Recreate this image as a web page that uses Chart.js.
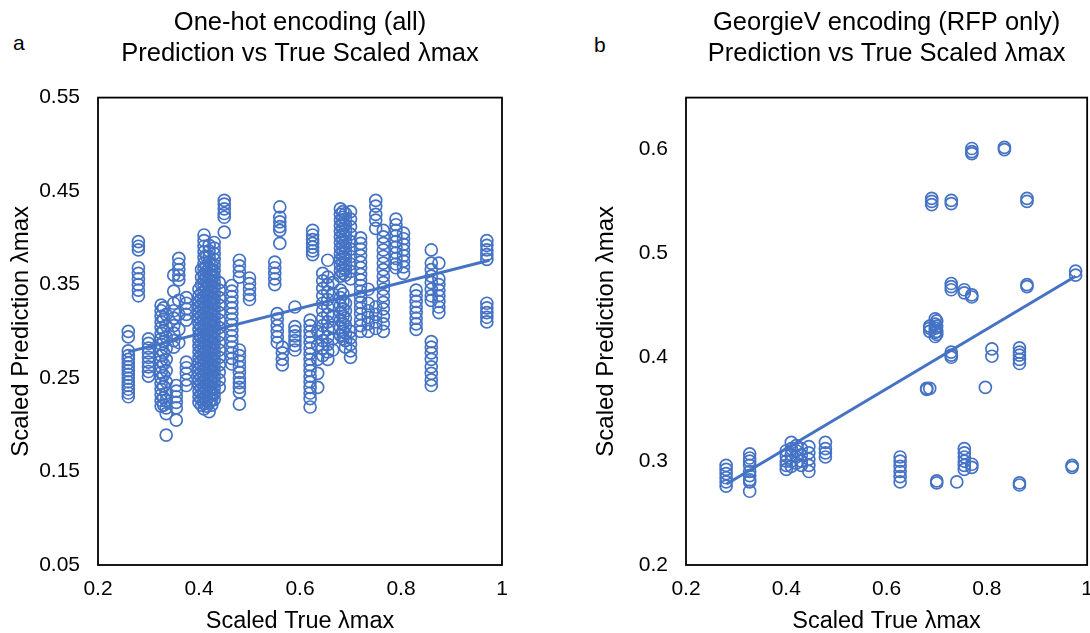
<!DOCTYPE html>
<html>
<head>
<meta charset="utf-8">
<script src="https://cdn.jsdelivr.net/npm/chart.js@4.4.0/dist/chart.umd.min.js"></script>
<style>
  body { margin: 0; background: #fff; overflow: hidden; width: 1090px; height: 633px; position: relative;
         font-family: "Liberation Sans", Arial, sans-serif; }
  .panel { position: absolute; top: 0; height: 633px; }
  #wrapA { left: 0; width: 545px; }
  #wrapB { left: 545px; width: 560px; }
  .tag { position: absolute; font-size: 21px; line-height: 1; color: #000; }
</style>
</head>
<body>
<div class="tag" style="left:13px;top:32px">a</div>
<div class="tag" style="left:594px;top:34px">b</div>
<div id="wrapA" class="panel"><canvas id="chartA" width="545" height="633"></canvas></div>
<div id="wrapB" class="panel"><canvas id="chartB" width="560" height="633"></canvas></div>
<script>
// Panel a: one-hot encoding, columns of predictions at each true value
const xA = [0.26, 0.28, 0.30, 0.325, 0.33, 0.335, 0.35, 0.36, 0.355, 0.375, 0.40, 0.405, 0.41, 0.415, 0.42, 0.425,
            0.43, 0.44, 0.45, 0.465, 0.48, 0.50, 0.55, 0.56, 0.555, 0.565, 0.59, 0.625, 0.62, 0.635, 0.645, 0.655,
            0.665, 0.68, 0.685, 0.69, 0.70, 0.72, 0.735, 0.75, 0.765, 0.79, 0.805, 0.83, 0.86, 0.875, 0.97];
const yA = [
  [0.300, 0.294, 0.279, 0.274, 0.270, 0.266, 0.262, 0.258, 0.254, 0.250, 0.246, 0.242, 0.238, 0.234, 0.230],
  [0.396, 0.391, 0.387, 0.368, 0.362, 0.356, 0.350, 0.344, 0.338],
  [0.292, 0.287, 0.282, 0.277, 0.272, 0.267, 0.262, 0.257, 0.252],
  [0.328, 0.322, 0.316, 0.310, 0.304, 0.298, 0.292, 0.286, 0.280, 0.274, 0.268, 0.262, 0.256, 0.250, 0.244, 0.238, 0.232, 0.226, 0.220],
  [0.325, 0.313, 0.301, 0.289, 0.277, 0.265, 0.253, 0.241, 0.229, 0.221],
  [0.318, 0.306, 0.294, 0.282, 0.270, 0.258, 0.246, 0.234, 0.226, 0.218, 0.212, 0.189],
  [0.360, 0.343, 0.330, 0.322, 0.314, 0.306, 0.298, 0.290, 0.283],
  [0.378, 0.372, 0.366, 0.360, 0.355, 0.333, 0.318, 0.302, 0.288],
  [0.242, 0.236, 0.230, 0.224, 0.218, 0.205],
  [0.336, 0.330, 0.324, 0.318, 0.312, 0.267, 0.261, 0.255, 0.248, 0.242],
  [0.345, 0.338, 0.332, 0.326, 0.320, 0.314, 0.308, 0.302, 0.296, 0.290, 0.284, 0.278, 0.272, 0.266, 0.260, 0.254, 0.248, 0.242, 0.236, 0.230, 0.224],
  [0.366, 0.358, 0.350, 0.341, 0.335, 0.329, 0.323, 0.317, 0.311, 0.305, 0.299, 0.293, 0.287, 0.281, 0.275, 0.269,
   0.263, 0.257, 0.251, 0.245, 0.239, 0.233, 0.227, 0.221],
  [0.403, 0.397, 0.391, 0.385, 0.379, 0.373, 0.367, 0.361, 0.355, 0.349, 0.343, 0.337, 0.331, 0.325, 0.319, 0.313,
   0.307, 0.301, 0.295, 0.289, 0.283, 0.277, 0.271, 0.265, 0.259, 0.253, 0.247, 0.241, 0.235, 0.229, 0.223, 0.217],
  [0.380, 0.370, 0.364, 0.358, 0.352, 0.346, 0.340, 0.334, 0.328, 0.322, 0.316, 0.310, 0.304, 0.298, 0.292, 0.286,
   0.280, 0.274, 0.268, 0.262, 0.256, 0.250, 0.244, 0.238, 0.232, 0.226, 0.220],
  [0.392, 0.386, 0.380, 0.374, 0.368, 0.362, 0.356, 0.350, 0.344, 0.338, 0.332, 0.326, 0.320, 0.314, 0.308,
   0.302, 0.296, 0.290, 0.284, 0.278, 0.272, 0.266, 0.260, 0.254, 0.248, 0.242, 0.236, 0.230, 0.224, 0.214],
  [0.371, 0.365, 0.359, 0.353, 0.347, 0.341, 0.335, 0.329, 0.323, 0.317, 0.311, 0.305, 0.299, 0.293, 0.287, 0.281,
   0.275, 0.269, 0.263, 0.257, 0.251, 0.245, 0.239, 0.233, 0.227, 0.221],
  [0.395, 0.389, 0.383, 0.377, 0.371, 0.365, 0.359, 0.353, 0.347, 0.341, 0.335, 0.329, 0.323, 0.317, 0.311,
   0.305, 0.299, 0.293, 0.287, 0.281, 0.275, 0.269, 0.263, 0.257, 0.251, 0.245, 0.239, 0.233, 0.227],
  [0.352, 0.344, 0.336, 0.328, 0.320, 0.312, 0.304, 0.296, 0.288, 0.280, 0.272, 0.264, 0.256, 0.248, 0.240],
  [0.440, 0.436, 0.431, 0.426, 0.422, 0.406],
  [0.349, 0.343, 0.337, 0.331, 0.325, 0.319, 0.313, 0.307, 0.301, 0.295, 0.289, 0.283, 0.277, 0.271, 0.265],
  [0.376, 0.370, 0.364, 0.358, 0.280, 0.274, 0.268, 0.262, 0.256, 0.250, 0.245, 0.240, 0.235, 0.222],
  [0.357, 0.351, 0.345, 0.339, 0.334],
  [0.374, 0.368, 0.362, 0.356, 0.350],
  [0.433, 0.422, 0.417, 0.412, 0.408, 0.394],
  [0.319, 0.313, 0.306, 0.300, 0.294, 0.288],
  [0.283, 0.277, 0.270, 0.264],
  [0.326, 0.305, 0.300, 0.295, 0.290, 0.285, 0.280],
  [0.408, 0.403, 0.398, 0.394, 0.390, 0.386, 0.382],
  [0.312, 0.306, 0.300, 0.294, 0.288, 0.282, 0.276, 0.270, 0.264, 0.258, 0.252, 0.246, 0.240, 0.234, 0.228, 0.219],
  [0.300, 0.285, 0.270, 0.255, 0.240],
  [0.362, 0.354, 0.346, 0.338, 0.330, 0.322, 0.314, 0.306, 0.298, 0.290, 0.282, 0.274],
  [0.376, 0.358, 0.350, 0.342, 0.334, 0.326, 0.318, 0.310, 0.302, 0.294, 0.286, 0.278, 0.270],
  [0.352, 0.340, 0.328, 0.316, 0.304, 0.292, 0.280],
  [0.431, 0.425, 0.419, 0.413, 0.407, 0.401, 0.395, 0.389, 0.383, 0.377, 0.371, 0.365, 0.359, 0.344, 0.336, 0.328, 0.320, 0.312, 0.304, 0.296],
  [0.428, 0.422, 0.416, 0.410, 0.404, 0.398, 0.392, 0.386, 0.380, 0.374, 0.368, 0.362, 0.340, 0.332, 0.324, 0.316, 0.308, 0.300, 0.292],
  [0.426, 0.420, 0.414, 0.408, 0.402, 0.396, 0.390, 0.384, 0.378, 0.372, 0.366, 0.360, 0.330, 0.322, 0.314, 0.306, 0.298, 0.290, 0.283],
  [0.428, 0.420, 0.412, 0.404, 0.396, 0.388, 0.380, 0.372, 0.364, 0.356, 0.300, 0.293, 0.286, 0.279, 0.272],
  [0.400, 0.394, 0.388, 0.381, 0.374, 0.368, 0.361, 0.355, 0.349, 0.343, 0.337, 0.331, 0.325, 0.319, 0.312, 0.306, 0.300],
  [0.345, 0.330, 0.322, 0.315, 0.308, 0.300],
  [0.440, 0.434, 0.425, 0.419, 0.410, 0.326, 0.318, 0.310, 0.303],
  [0.408, 0.401, 0.394, 0.387, 0.380, 0.373, 0.366, 0.359, 0.352, 0.345, 0.338, 0.331, 0.324, 0.316, 0.308, 0.300],
  [0.420, 0.414, 0.408, 0.402, 0.396, 0.390, 0.384, 0.378, 0.372, 0.368],
  [0.405, 0.399, 0.393, 0.387, 0.381, 0.375, 0.369, 0.362],
  [0.344, 0.338, 0.332, 0.326, 0.320, 0.314, 0.308, 0.302],
  [0.387, 0.373, 0.366, 0.359, 0.352, 0.345, 0.338, 0.333, 0.289, 0.283, 0.277, 0.270, 0.262, 0.255, 0.248, 0.242],
  [0.373, 0.356, 0.350, 0.344, 0.338, 0.332, 0.326, 0.320],
  [0.397, 0.392, 0.387, 0.382, 0.377, 0.330, 0.325, 0.320, 0.315, 0.310]
];
const trendAx = [0.26, 0.975];
const trendAy = [0.278, 0.376];

// Panel b: GeorgieV encoding, RFP only
const xB = [0.28, 0.327, 0.40, 0.41, 0.42, 0.43, 0.445, 0.478, 0.627, 0.68, 0.686, 0.69, 0.697, 0.70,
            0.729, 0.74, 0.755, 0.77, 0.797, 0.81, 0.835, 0.865, 0.88, 0.97, 0.977];
const yB = [
  [0.296, 0.292, 0.288, 0.284, 0.280, 0.276],
  [0.307, 0.303, 0.300, 0.296, 0.290, 0.286, 0.282, 0.280, 0.271],
  [0.310, 0.305, 0.300, 0.296, 0.292],
  [0.318, 0.312, 0.306, 0.300, 0.295],
  [0.315, 0.310, 0.304, 0.298],
  [0.312, 0.306, 0.300, 0.296],
  [0.314, 0.308, 0.302, 0.296, 0.290],
  [0.318, 0.312, 0.308, 0.304],
  [0.304, 0.300, 0.295, 0.290, 0.285, 0.280],
  [0.370, 0.369],
  [0.430, 0.428, 0.425, 0.370],
  [0.553, 0.550, 0.547],
  [0.437, 0.432, 0.428, 0.424, 0.420],
  [0.435, 0.430, 0.425, 0.422, 0.281, 0.279],
  [0.551, 0.548, 0.471, 0.468, 0.465, 0.405, 0.402, 0.400],
  [0.280],
  [0.465, 0.462, 0.312, 0.308, 0.304, 0.300, 0.296, 0.292],
  [0.601, 0.598, 0.596, 0.460, 0.458, 0.297, 0.294],
  [0.371],
  [0.408, 0.401],
  [0.602, 0.600],
  [0.409, 0.405, 0.402, 0.398, 0.394, 0.279, 0.277],
  [0.553, 0.550, 0.470, 0.468],
  [0.296, 0.294],
  [0.483, 0.479]
];
const trendBx = [0.281, 0.977];
const trendBy = [0.278, 0.478];

const xTicks = [0.2, 0.4, 0.6, 0.8, 1];
const yTicksA = [0.05, 0.15, 0.25, 0.35, 0.45, 0.55];
const yTicksB = [0.2, 0.3, 0.4, 0.5, 0.6];

const BLUE = '#4472C4';
const FONT = '"Liberation Sans", Arial, sans-serif';

function columnsToPoints(xs, ys) {
  const pts = [];
  xs.forEach((x, i) => ys[i].forEach(y => pts.push({ x: x, y: y })));
  return pts;
}

function pairsToPoints(xs, ys) {
  return xs.map((x, i) => ({ x: x, y: ys[i] }));
}

// full black frame around the plot area
const frame = {
  id: 'frame',
  afterDraw(chart) {
    const { ctx, chartArea: a } = chart;
    ctx.save();
    ctx.strokeStyle = '#000';
    ctx.lineWidth = 1.8;
    ctx.strokeRect(a.left, a.top, a.right - a.left, a.bottom - a.top);
    ctx.restore();
  }
};

function makeChart(id, cfg) {
  return new Chart(document.getElementById(id), {
    type: 'scatter',
    data: {
      datasets: [
        {
          data: pairsToPoints(cfg.trendX, cfg.trendY),
          showLine: true,
          pointRadius: 0,
          borderColor: BLUE,
          borderWidth: 3
        },
        {
          data: columnsToPoints(cfg.xs, cfg.ys),
          pointStyle: 'circle',
          pointRadius: 6,
          pointBorderWidth: 1.7,
          borderColor: BLUE,
          backgroundColor: 'rgba(0,0,0,0)'
        }
      ]
    },
    options: {
      responsive: false,
      animation: false,
      events: [],
      layout: { padding: { top: 2, left: 0, right: cfg.padRight, bottom: 0 } },
      plugins: {
        legend: { display: false },
        tooltip: { enabled: false },
        title: {
          display: true,
          fullSize: false,
          text: cfg.title,
          color: '#000',
          font: { family: FONT, size: 25.5, weight: 'normal', lineHeight: 1.2 },
          padding: { top: 6, bottom: 28.4 }
        }
      },
      scales: {
        x: {
          type: 'linear',
          min: 0.2,
          max: 1,
          grid: { display: false, drawTicks: false },
          border: { display: false },
          afterBuildTicks: s => { s.ticks = xTicks.map(v => ({ value: v })); },
          afterFit: s => { s.height = 68; },
          ticks: { color: '#000', padding: 12, maxRotation: 0, font: { family: FONT, size: 21 }, callback: v => String(v) },
          title: { display: true, text: 'Scaled True λmax', color: '#000', padding: 0,
                   font: { family: FONT, size: 23.5, lineHeight: 1.0 } }
        },
        y: {
          type: 'linear',
          min: cfg.yMin,
          max: cfg.yMax,
          grid: { display: false, drawTicks: false },
          border: { display: false },
          afterBuildTicks: s => { s.ticks = cfg.yTicks.map(v => ({ value: v })); },
          afterFit: s => { s.width = cfg.yWidth; },
          ticks: { color: '#000', padding: 18, font: { family: FONT, size: 21 }, callback: v => String(v) },
          title: { display: true, text: 'Scaled Prediction λmax', color: '#000', padding: { top: cfg.yTitlePad, bottom: 0 },
                   font: { family: FONT, size: 24, lineHeight: 1.2 } }
        }
      }
    },
    plugins: [frame]
  });
}

makeChart('chartA', {
  xs: xA, ys: yA, trendX: trendAx, trendY: trendAy,
  title: ['One-hot encoding (all)', 'Prediction vs True Scaled λmax'],
  yMin: 0.05, yMax: 0.55, yTicks: yTicksA, yWidth: 98, yTitlePad: 7, padRight: 43
});

makeChart('chartB', {
  xs: xB, ys: yB, trendX: trendBx, trendY: trendBy,
  title: ['GeorgieV encoding (RFP only)', 'Prediction vs True Scaled λmax'],
  yMin: 0.2, yMax: 0.65, yTicks: yTicksB, yWidth: 141, yTitlePad: 47, padRight: 17
});
</script>
</body>
</html>
